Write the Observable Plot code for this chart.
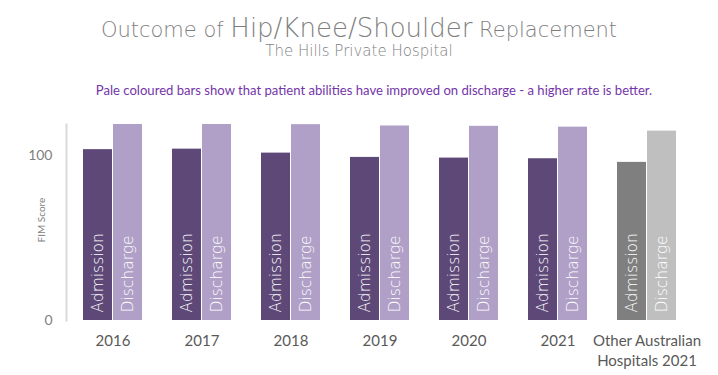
<!DOCTYPE html>
<html>
<head>
<meta charset="utf-8">
<script src="https://cdn.jsdelivr.net/npm/d3@7"></script>
<script src="https://cdn.jsdelivr.net/npm/@observablehq/plot@0.6"></script>
<style>
  html, body { margin: 0; padding: 0; background: #fff; }
  #wrap { position: relative; width: 718px; height: 375px; overflow: hidden; }
  #title { position: absolute; top: 15px; left: 0; width: 718px; text-align: center; line-height: 1;
           font-family: "DejaVu Sans", sans-serif; font-weight: 200; color: #7f7f7f; white-space: nowrap; }
  #title .s { font-size: 21px; }
  #title .b { font-size: 26px; }
  #sub { position: absolute; top: 44px; left: 0; width: 718px; text-align: center; line-height: 1;
         font-family: "DejaVu Sans", sans-serif; font-weight: 200; color: #7f7f7f; font-size: 15px; }
  #note { position: absolute; top: 83px; left: 15px; width: 718px; text-align: center; line-height: 1.1;
          font-family: Lato, sans-serif; color: #7435a8; font-size: 13.1px; white-space: nowrap; }
  #chart { position: absolute; top: 110px; left: 0; }
</style>
</head>
<body>
<div id="wrap">
  <div id="title"><span class="s">Outcome of </span><span class="b">Hip/Knee/Shoulder</span><span class="s"> Replacement</span></div>
  <div id="sub">The Hills Private Hospital</div>
  <div id="note">Pale coloured bars show that patient abilities have improved on discharge - a higher rate is better.</div>
  <div id="chart"></div>
</div>
<script>
const groups = ["2016", "2017", "2018", "2019", "2020", "2021", "Other Australian\nHospitals 2021"];
const admission = [103.3, 103.6, 101.2, 98.6, 98.2, 97.8, 95.6];
const discharge = [118.5, 118.5, 118.4, 117.6, 117.4, 116.9, 114.5];
const yTicks = [0, 100];

const last = groups.length - 1;
const adm = groups.map((g, i) => ({group: g, type: "Admission", value: admission[i], other: i === last}));
const dis = groups.map((g, i) => ({group: g, type: "Discharge", value: discharge[i], other: i === last}));

const chart = Plot.plot({
  width: 718,
  height: 265,
  marginTop: 14,
  marginBottom: 55,
  marginLeft: 66,
  marginRight: 24,
  x: {domain: groups, paddingInner: 1/3, paddingOuter: 0.156, axis: null},
  y: {domain: [0, 118.5], axis: null},
  marks: [
    Plot.frame({anchor: "left", stroke: "#d9d9d9", strokeWidth: 2}),
    Plot.barY(adm, {x: "group", y: "value", insetRight: 30,
      fill: d => d.other ? "#7f7f7f" : "#5e4878"}),
    Plot.barY(dis, {x: "group", y: "value", insetLeft: 30,
      fill: d => d.other ? "#bfbfbf" : "#b09fc7"}),
    Plot.text(adm, {x: "group", y: 0, text: "type", rotate: -90, textAnchor: "start", dx: -15,
      dy: -8, fill: "white", fontSize: 15.5, fontFamily: "DejaVu Sans", fontWeight: 200}),
    Plot.text(dis, {x: "group", y: 0, text: "type", rotate: -90, textAnchor: "start", dx: 15,
      dy: -8, fill: "white", fontSize: 15.5, fontFamily: "DejaVu Sans", fontWeight: 200}),
    Plot.axisX({anchor: "bottom", tickSize: 0, tickPadding: 12, fontSize: 15,
      fontFamily: "Lato", fill: "#595959", lineHeight: 1.3, label: null}),
    Plot.axisY(yTicks, {anchor: "left", tickSize: 0, tickPadding: 14, fontSize: 14,
      fontFamily: "Lato", fill: "#7f7f7f", label: null}),
    Plot.text(["FIM Score"], {frameAnchor: "left", dx: -25, dy: 20, rotate: -90, fontSize: 10,
      fontFamily: "Lato", fill: "#7f7f7f"})
  ]
});
document.getElementById("chart").appendChild(chart);
</script>
</body>
</html>
